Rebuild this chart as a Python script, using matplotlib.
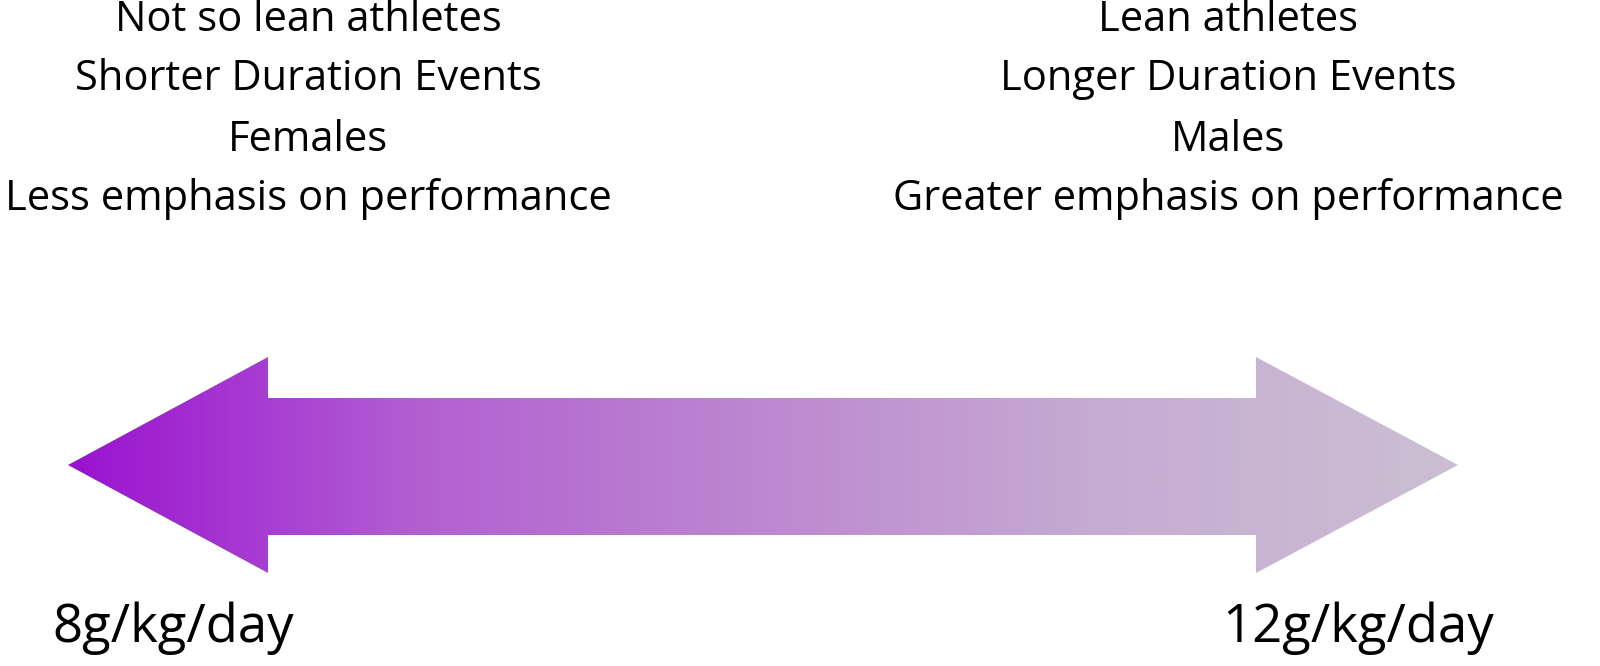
import matplotlib.pyplot as plt
import numpy as np
from matplotlib.patches import Polygon
from matplotlib.colors import LinearSegmentedColormap

LEFT_LINES = ["Not so lean athletes", "Shorter Duration Events", "Females",
              "Less emphasis on performance"]
RIGHT_LINES = ["Lean athletes", "Longer Duration Events", "Males",
               "Greater emphasis on performance"]
LEFT_VALUE = "8g/kg/day"
RIGHT_VALUE = "12g/kg/day"
GRADIENT = ["#9a12d0", "#b25fd2", "#bd88d0", "#c6acd2", "#cbbfd2"]

W, H = 1600, 666
fig = plt.figure(figsize=(16, 6.66), dpi=100)
ax = fig.add_axes([0, 0, 1, 1])
ax.set_xlim(0, W)
ax.set_ylim(H, 0)
ax.axis("off")

# double arrow outline in pixel coords
pts = [(68, 465), (268, 357), (268, 398), (1256, 398), (1256, 357),
       (1458, 465), (1256, 573), (1256, 535), (268, 535), (268, 573)]
poly = Polygon(pts, closed=True, facecolor="none", edgecolor="none")
ax.add_patch(poly)
cmap = LinearSegmentedColormap.from_list("arrow", GRADIENT)
grad = np.linspace(0, 1, 512)[None, :]
im = ax.imshow(grad, cmap=cmap, extent=(68, 1458, 573, 357), aspect="auto")
im.set_clip_path(poly)

font = "Open Sans"
ys = [20, 79, 140, 199]
for y, s in zip(ys, LEFT_LINES):
    ax.text(308, y, s, ha="center", va="center", fontsize=30, family=font)
for y, s in zip(ys, RIGHT_LINES):
    ax.text(1228, y, s, ha="center", va="center", fontsize=30, family=font)

ax.text(52, 628, LEFT_VALUE, ha="left", va="center", fontsize=38, family=font)
ax.text(1222, 628, RIGHT_VALUE, ha="left", va="center", fontsize=38, family=font)

ax.set_ylim(H, 0)
ax.set_xlim(0, W)
fig.savefig("out.png", dpi=100)
